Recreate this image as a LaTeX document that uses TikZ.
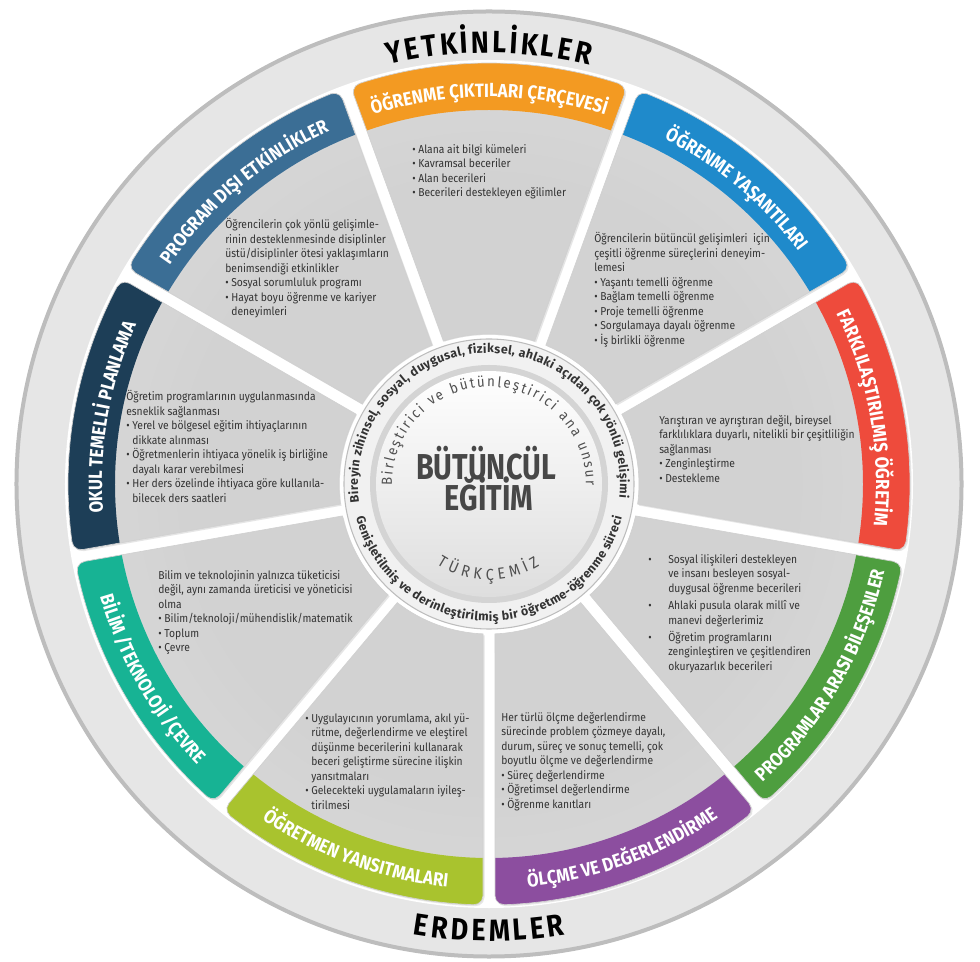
\documentclass[tikz,border=0pt]{standalone}
\usepackage{fontspec}
\setmainfont{Fira Sans}
\newfontfamily\bodyfont{Fira Sans}[FakeStretch=0.9]
\newfontfamily\bandfamily{Fira Sans}[FakeStretch=0.88]
\newfontfamily\titlefamily{Fira Sans}[FakeStretch=0.8]
\usetikzlibrary{decorations.text}

\definecolor{corange}{HTML}{F39A22}
\definecolor{cblue}{HTML}{1F8ACB}
\definecolor{cred}{HTML}{EE4B3C}
\definecolor{cgreen}{HTML}{4E9E3F}
\definecolor{cpurple}{HTML}{8C4E9F}
\definecolor{clime}{HTML}{A9C32E}
\definecolor{cteal}{HTML}{17B394}
\definecolor{cnavy}{HTML}{1D3E57}
\definecolor{csteel}{HTML}{3B6E95}
\definecolor{ringfill}{HTML}{E6E6E6}
\definecolor{rimgray}{HTML}{BDBDBD}
\definecolor{cardin}{HTML}{D2D2D2}
\definecolor{cardout}{HTML}{EDEDED}
\definecolor{bodygray}{HTML}{333333}
\definecolor{titlegray}{HTML}{474747}
\definecolor{unsurgray}{HTML}{505050}

\pgfdeclareradialshading{cardshade}{\pgfpoint{0bp}{0bp}}{color(0bp)=(cardin); color(18bp)=(cardin); color(50bp)=(cardout)}

\newcommand{\cardpath}[1]{({#1-17.7076}:150) -- ({#1-19.1651}:411.77) arc[start angle={#1-110}, end angle={#1-17.9134}, radius=9] arc[start angle={#1-17.9134}, end angle={#1+17.9134}, radius=421] arc[start angle={#1+17.9134}, end angle={#1+110}, radius=9] -- ({#1+17.7076}:150) arc[start angle={#1+17.7076}, end angle={#1-17.7076}, radius=150] -- cycle}
\newcommand{\hang}{\hphantom{•\ }}
\newcommand{\bandfont}{\bandfamily\bfseries\fontsize{14.3}{17}\selectfont}
\newcommand{\ringfont}{\bandfamily\bfseries\fontsize{23}{26}\selectfont}
\newcommand{\centfont}{\bfseries\fontsize{9.3}{11}\selectfont}
\newcommand{\unsurfont}{\bodyfont\fontsize{11}{13}\selectfont}
\newcommand{\turkfont}{\bodyfont\fontsize{12}{14}\selectfont}

\begin{document}
\begin{tikzpicture}[x=0.75pt, y=0.75pt,
  cardedge/.style={draw=black!18, line width=0.5pt},
  bodytext/.style={font=\bodyfont\fontsize{8.6}{10.9}\selectfont, text=bodygray, align=left, anchor=north west, inner sep=0pt, execute at begin node=\strut},
  bandtext/.style={decorate, decoration={text along path, text align=center, text color=white}},
  ringtext/.style={decorate, decoration={text along path, text align={fit to path}, text color=bodygray}},
  spacedtext/.style={decorate, decoration={text along path, text align={fit to path}, text color=unsurgray}},
  titletext/.style={font=\titlefamily\bfseries\fontsize{27}{32}\selectfont, text=titlegray, inner sep=0pt, anchor=base}]

    \useasboundingbox (-489,-478) rectangle (491,484);

    \fill[ringfill] (0,0) circle (474);
    \draw[rimgray, line width=3pt] (0,0) circle (472.5);
    \fill[white] (0,0) circle (424);

    \foreach \c/\col in {90/corange,50/cblue,10/cred,-30/cgreen,-70/cpurple,-110/clime,-150/cteal,170/cnavy,130/csteel}{
        \fill[black!10, shift={(1.5,-1.5)}] \cardpath{\c};
        \begin{scope}
            \clip \cardpath{\c};
            \shade[shading=cardshade] (0,0) circle (421);
            \fill[\col] ({\c-25}:374) arc[start angle={\c-25}, end angle={\c+25}, radius=374] -- ({\c+25}:430) arc[start angle={\c+25}, end angle={\c-25}, radius=430] -- cycle;
        \end{scope}
        \draw[cardedge] \cardpath{\c};
    }

    \path[bandtext, decoration={text={|\bandfont|ÖĞRENME ÇIKTILARI ÇERÇEVESİ}}] (115:387) arc[start angle=115, end angle=65, radius=387];
    \path[bandtext, decoration={text={|\bandfont|ÖĞRENME YAŞANTILARI}}] (75:387) arc[start angle=75, end angle=25, radius=387];
    \path[bandtext, decoration={text={|\bandfont|FARKLILAŞTIRILMIŞ ÖĞRETİM}}] (35:387) arc[start angle=35, end angle=-15, radius=387];
    \path[bandtext, decoration={text={|\bandfont|PROGRAMLAR ARASI BİLEŞENLER}}] (-55:405) arc[start angle=-55, end angle=-5, radius=405];
    \path[bandtext, decoration={text={|\bandfont|ÖLÇME VE DEĞERLENDİRME}}] (-95:405) arc[start angle=-95, end angle=-45, radius=405];
    \path[bandtext, decoration={text={|\bandfont|ÖĞRETMEN YANSITMALARI}}] (-135:405) arc[start angle=-135, end angle=-85, radius=405];
    \path[bandtext, decoration={text={|\bandfont|BİLİM /TEKNOLOJİ /ÇEVRE}}] (-175:405) arc[start angle=-175, end angle=-125, radius=405];
    \path[bandtext, decoration={text={|\bandfont|OKUL TEMELLİ PLANLAMA}}] (195:387) arc[start angle=195, end angle=145, radius=387];
    \path[bandtext, decoration={text={|\bandfont|PROGRAM DIŞI ETKİNLİKLER}}] (155:387) arc[start angle=155, end angle=105, radius=387];

    \path[decorate, decoration={text along path, text align={fit to path}, text color=black, text={|\ringfont|YETKİNLİKLER}}] (103.5:431) arc[start angle=103.5, end angle=76.5, radius=431];
    \path[decorate, decoration={text along path, text align={fit to path}, text color=black, text={|\ringfont|ERDEMLER}}] (260.4:457) arc[start angle=260.4, end angle=279.6, radius=457];

    \fill[white] (0,0) circle (149);
    \fill[ringfill!55] (0,0) circle (145);
    \draw[rimgray, line width=0.8pt] (0,0) circle (145);
    \fill[black!17] (0,0) circle (119);
    \shade[top color=white, bottom color=black!13] (0,0) circle (113);

    \path[ringtext, decoration={text={|\centfont|Bireyin zihinsel, sosyal, duygusal, fiziksel, ahlaki açıdan çok yönlü gelişimi}}] (188:131) arc[start angle=188, end angle=-6, radius=131];
    \path[ringtext, decoration={text={|\centfont|Genişletilmiş ve derinleştirilmiş bir öğretme-öğrenme süreci}}] (-166:137) arc[start angle=-166, end angle=-14, radius=137];
    \path[spacedtext, decoration={text={|\unsurfont|Birleştirici ve bütünleştirici ana unsur}}] (181:97) arc[start angle=181, end angle=-1, radius=97];
    \path[spacedtext, decoration={text={|\turkfont|TÜRKÇEMİZ}}] (-123:96) arc[start angle=-123, end angle=-58, radius=96];

    \node[titletext] (bt1) at (-3,4) {BÜTÜNCÜL};
    \node[titletext] (bt2) at (0,-27) {EĞİTİM};

    \node[bodytext] (t1) at (-77,340) {• Alana ait bilgi kümeleri\\• Kavramsal beceriler\\• Alan becerileri\\• Becerileri destekleyen eğilimler};
    \node[bodytext] (t2) at (105,252) {Öğrencilerin bütüncül gelişimleri\ \ için\\çeşitli öğrenme süreçlerini deneyim-\\lemesi\\• Yaşantı temelli öğrenme\\• Bağlam temelli öğrenme\\• Proje temelli öğrenme\\• Sorgulamaya dayalı öğrenme\\• İş birlikli öğrenme};
    \node[bodytext] (t3) at (-264,266) {Öğrencilerin çok yönlü gelişimle-\\rinin desteklenmesinde disiplinler\\üstü/disiplinler ötesi yaklaşımların\\benimsendiği etkinlikler\\• Sosyal sorumluluk programı\\• Hayat boyu öğrenme ve kariyer\\\hang deneyimleri};
    \node[bodytext] (t4) at (-363,94) {Öğretim programlarının uygulanmasında\\esneklik sağlanması\\• Yerel ve bölgesel eğitim ihtiyaçlarının\\\hang dikkate alınması\\• Öğretmenlerin ihtiyaca yönelik iş birliğine\\\hang dayalı karar verebilmesi\\• Her ders özelinde ihtiyaca göre kullanıla-\\\hang bilecek ders saatleri};
    \node[bodytext] (t5) at (170,69) {Yarıştıran ve ayrıştıran değil, bireysel\\farklılıklara duyarlı, nitelikli bir çeşitliliğin\\sağlanması\\• Zenginleştirme\\• Destekleme};
    \node[bodytext] (t6) at (159,-70) {\makebox[15pt][l]{•}Sosyal ilişkileri destekleyen\\\hspace*{15pt}ve insanı besleyen sosyal-\\\hspace*{15pt}duygusal öğrenme becerileri\\[2pt]\makebox[15pt][l]{•}Ahlaki pusula olarak millî ve\\\hspace*{15pt}manevi değerlerimiz\\[2pt]\makebox[15pt][l]{•}Öğretim programlarını\\\hspace*{15pt}zenginleştiren ve çeşitlendiren\\\hspace*{15pt}okuryazarlık becerileri};
    \node[bodytext] (t7) at (12,-228) {Her türlü ölçme değerlendirme\\sürecinde problem çözmeye dayalı,\\durum, süreç ve sonuç temelli, çok\\boyutlu ölçme ve değerlendirme\\• Süreç değerlendirme\\• Öğretimsel değerlendirme\\• Öğrenme kanıtları};
    \node[bodytext] (t8) at (-184,-229) {• Uygulayıcının yorumlama, akıl yü-\\\hang rütme, değerlendirme ve eleştirel\\\hang düşünme becerilerini kullanarak\\\hang beceri geliştirme sürecine ilişkin\\\hang yansıtmaları\\• Gelecekteki uygulamaların iyileş-\\\hang tirilmesi};
    \node[bodytext] (t9) at (-331,-86) {Bilim ve teknolojinin yalnızca tüketicisi\\değil, aynı zamanda üreticisi ve yöneticisi\\olma\\• Bilim/teknoloji/mühendislik/matematik\\• Toplum\\• Çevre};
\end{tikzpicture}
\end{document}
